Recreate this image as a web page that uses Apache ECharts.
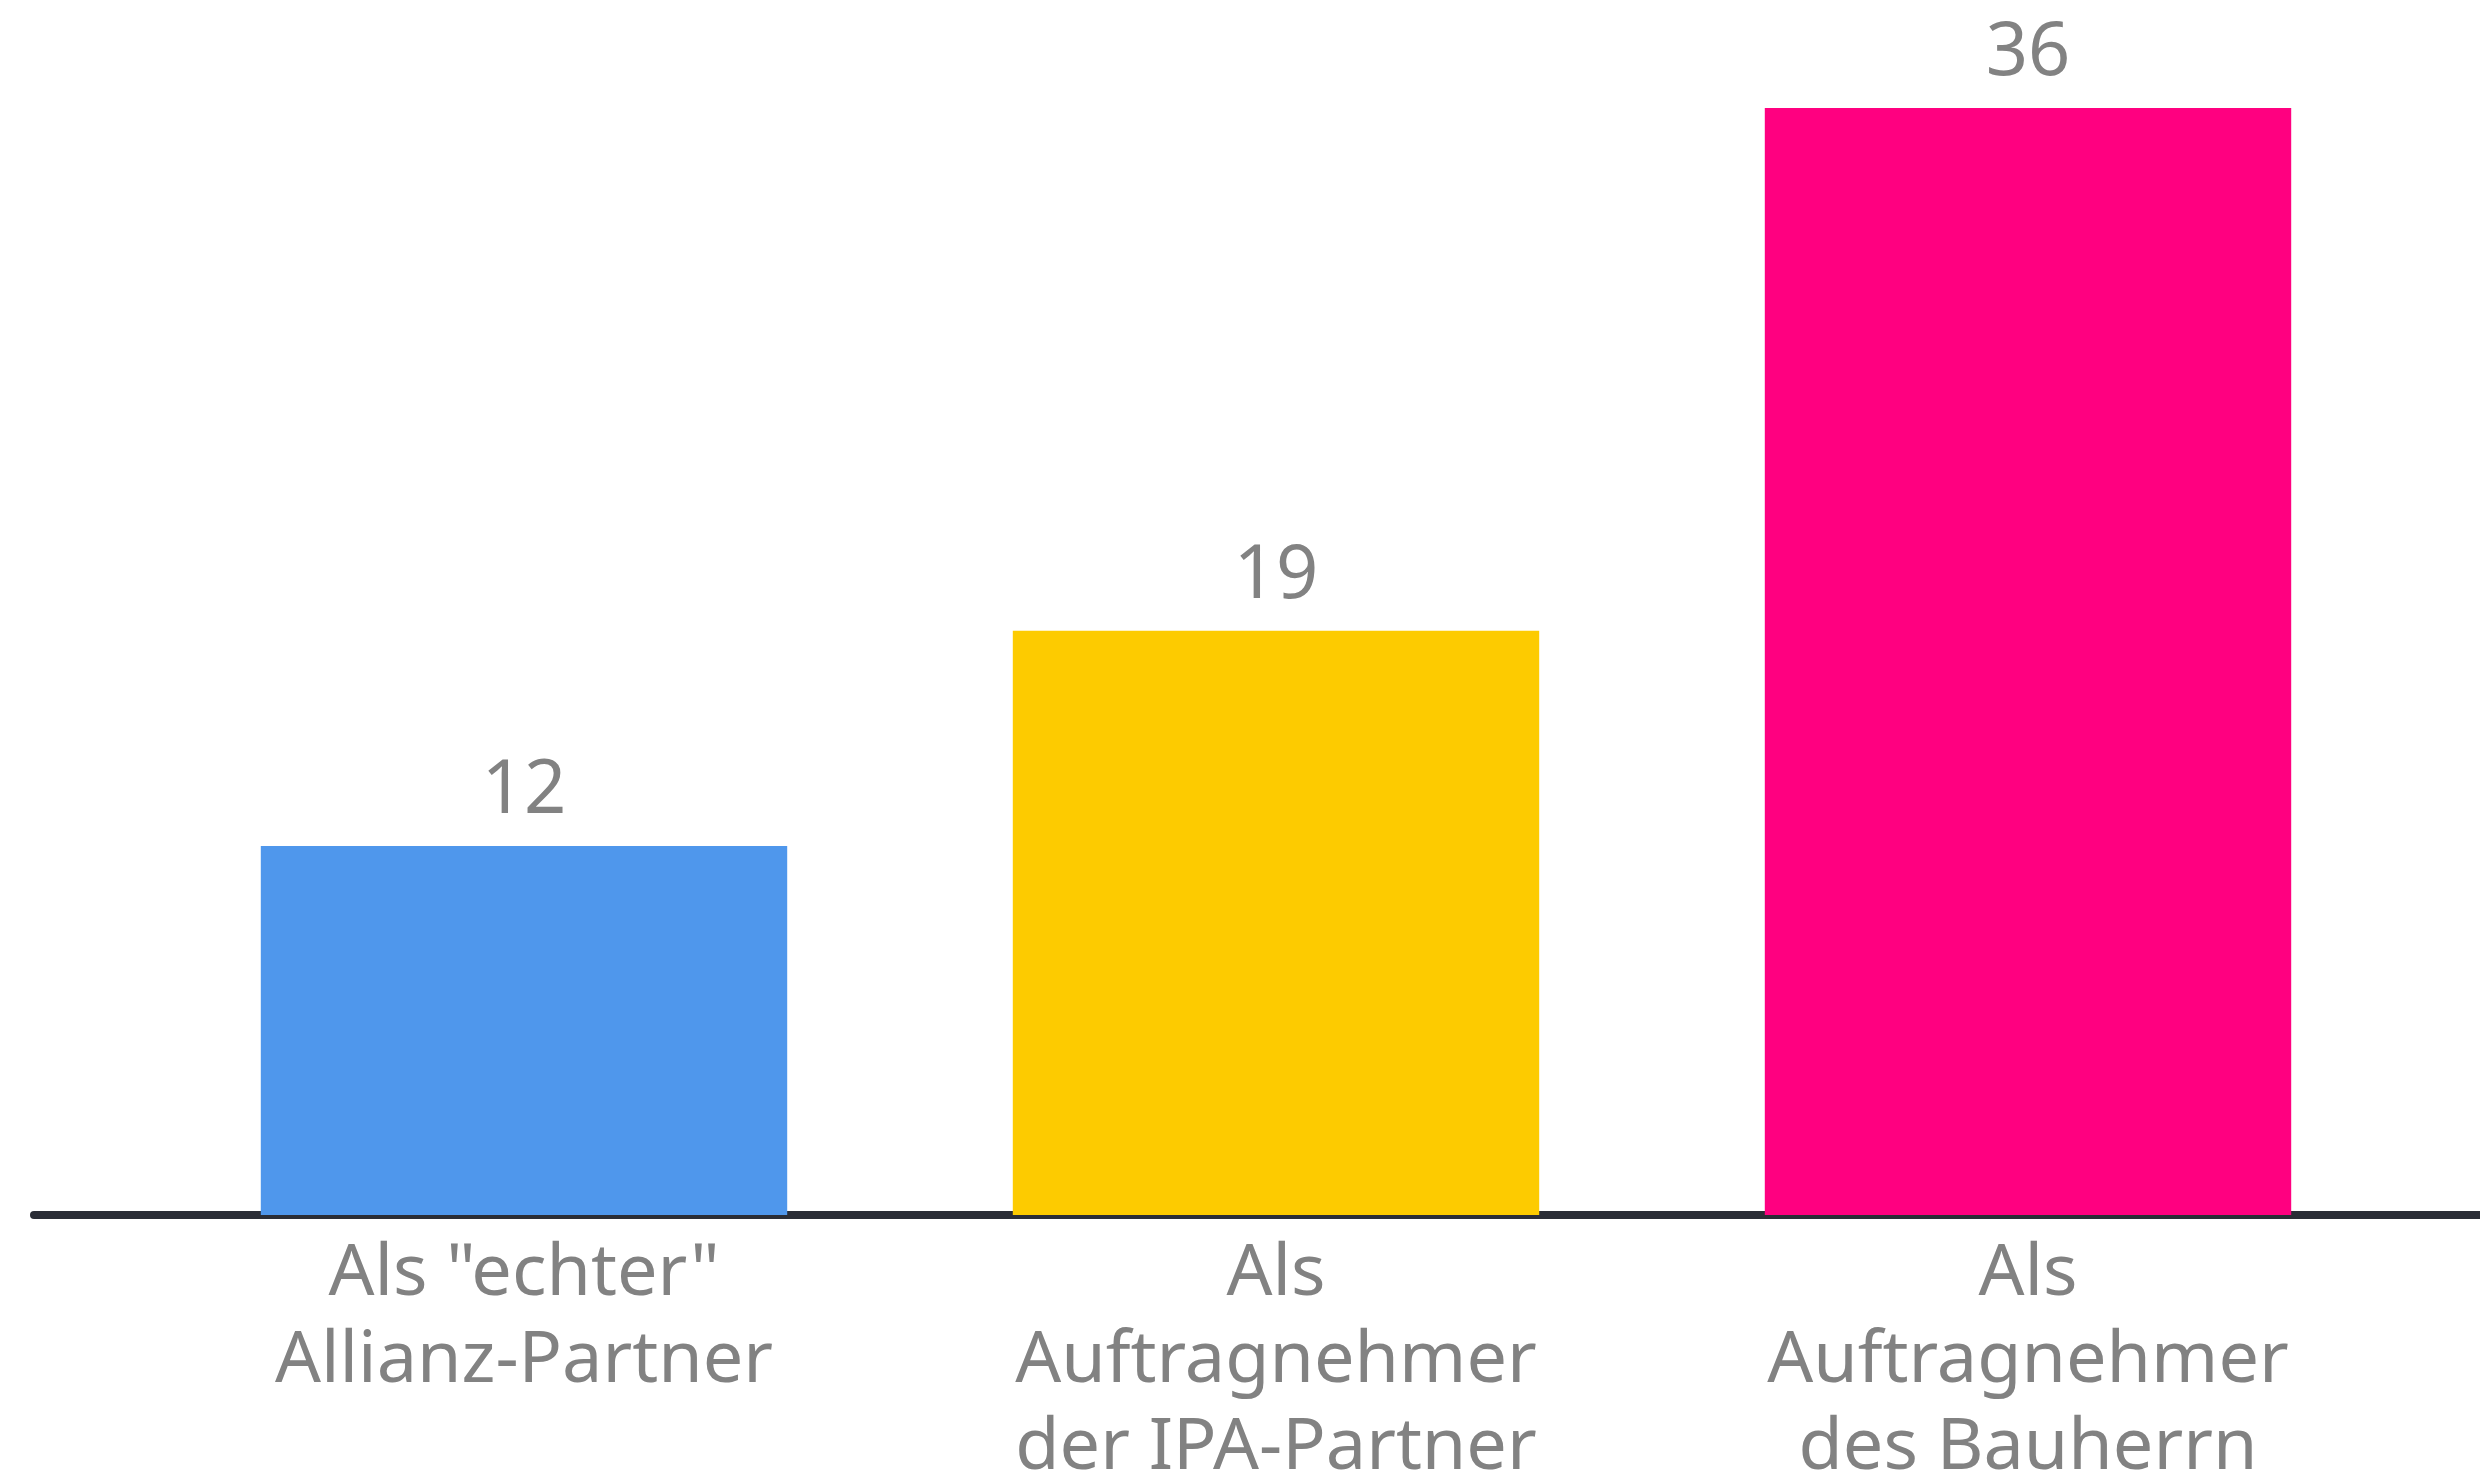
<!DOCTYPE html>
<html>
<head>
<meta charset="utf-8">
<script src="https://cdn.jsdelivr.net/npm/echarts@6/dist/echarts.min.js"></script>
<style>
  html, body { margin: 0; padding: 0; background: #fff; }
  #chart { width: 2480px; height: 1478px; }
</style>
</head>
<body>
<div id="chart"></div>
<script>
// Kategorien und Werte
const categories = ['Als "echter"\nAllianz-Partner', 'Als\nAuftragnehmer\nder IPA-Partner', 'Als\nAuftragnehmer\ndes Bauherrn'];
const values = [12, 19, 36];
const barColors = ['#4f97ec', '#fdcb00', '#ff0080'];

const textGray = '#828282';
const fontFamily = '"Noto Sans", sans-serif';

const chart = echarts.init(document.getElementById('chart'));
chart.setOption({
    backgroundColor: '#ffffff',
    animation: false,
    grid: [
        // Balken
        { left: 148, right: 76, top: 108, bottom: 263, outerBoundsMode: 'none' },
        // nur für die durchgehende Grundlinie
        { left: 34, right: 0, top: 108, bottom: 263, outerBoundsMode: 'none' }
    ],
    xAxis: [
        {
            type: 'category',
            gridIndex: 0,
            data: categories,
            axisLine: { show: false },
            axisTick: { show: false },
            axisLabel: {
                color: textGray,
                fontFamily: fontFamily,
                fontSize: 72,
                lineHeight: 87,
                margin: 16,
                interval: 0
            }
        },
        {
            type: 'category',
            gridIndex: 1,
            data: [''],
            axisLine: { show: true, lineStyle: { color: '#2a2d36', width: 8 } },
            axisTick: { show: false },
            axisLabel: { show: false }
        }
    ],
    yAxis: [
        { type: 'value', gridIndex: 0, min: 0, max: 36, show: false },
        { type: 'value', gridIndex: 1, min: 0, max: 36, show: false }
    ],
    series: [{
        type: 'bar',
        xAxisIndex: 0,
        yAxisIndex: 0,
        barWidth: '70%',
        data: values.map((v, i) => ({ value: v, itemStyle: { color: barColors[i] } })),
        label: {
            show: true,
            position: 'top',
            distance: 17,
            color: textGray,
            fontFamily: fontFamily,
            fontSize: 74
        }
    }]
});
</script>
</body>
</html>
